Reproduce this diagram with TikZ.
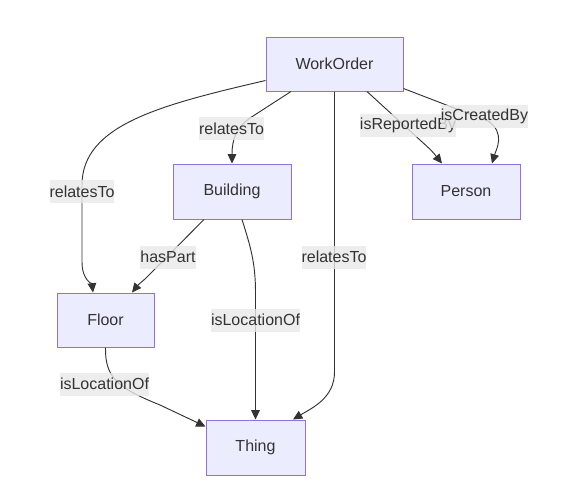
\documentclass[tikz,border=0pt]{standalone}
\usepackage{fontspec}
\setmainfont{Liberation Sans}
\usetikzlibrary{arrows.meta,calc}
\definecolor{boxfill}{HTML}{ECECFF}
\definecolor{boxline}{HTML}{9370DB}
\definecolor{ink}{HTML}{333333}
\definecolor{lblbg}{HTML}{E8E8E8}
\tikzset{
  box/.style={draw=boxline, fill=boxfill, line width=0.75pt, text=ink, inner sep=0pt,
    font=\fontsize{12}{14}\selectfont},
  edge/.style={draw=ink, line width=0.7pt, -{Triangle[length=7pt,width=6.5pt]}},
  lbl/.style={fill=lblbg, fill opacity=0.8, text opacity=1, text=ink, inner xsep=0pt,
    inner ysep=0pt, minimum height=17.25pt, font=\fontsize{12}{14}\selectfont}
}
\begin{document}
\begin{tikzpicture}[x=0.75pt,y=-0.75pt]
\useasboundingbox (0,0) rectangle (572,504);
% nodes
\node[box, minimum width=102.75pt, minimum height=40.5pt] (wo) at (334.5,64) {WorkOrder};
\node[box, minimum width=88.5pt, minimum height=41.25pt] (bld) at (232,191.5) {Building};
\node[box, minimum width=81pt, minimum height=41.25pt] (per) at (466,191.5) {Person};
\node[box, minimum width=72.75pt, minimum height=40.5pt] (flr) at (105.5,320) {Floor};
\node[box, minimum width=74.25pt, minimum height=41.25pt] (thg) at (255.5,447.5) {Thing};
% edges
\draw[edge] ([shift={(0,-11)}]wo.south west) .. controls (160,105) and (82,125) .. (82,185)
  -- (82,262) .. controls (82,280) and (92,284) .. ([shift={(-12.5,0)}]flr.north);
\draw[edge] ([shift={(-43.5,0)}]wo.south) -- (250,118) .. controls (236,128) and (232,140) .. (bld.north);
\draw[edge] (wo.south) -- (334.5,372) .. controls (334.5,398) and (312,408) .. ([shift={(37.5,0)}]thg.north);
\draw[edge] ([shift={(32.5,0)}]wo.south) -- (420,140) .. controls (432,151) .. ([shift={(-24,0)}]per.north);
\draw[edge] ([shift={(0,-3)}]wo.south east) -- (488,121) .. controls (506,133) and (496,150) .. ([shift={(26,0)}]per.north);
\draw[edge] ([shift={(-28,0)}]bld.south) -- (145,279) .. controls (138,285) .. ([shift={(26.5,0)}]flr.north);
\draw[edge] ([shift={(10,0)}]bld.south) .. controls (250,245) and (255.5,262) .. (255.5,292) -- (thg.north);
\draw[edge] (flr.south) .. controls (105,378) and (118,388) .. (160,405) -- ([shift={(0,7)}]thg.north west);
% labels
\node[lbl] (l1) at (82,191.5) {relatesTo};
\node[lbl] (l2) at (231.5,128.5) {relatesTo};
\node[lbl] (l3) at (334,257) {relatesTo};
\node[lbl] (l4) at (408,125) {isReportedBy};
\node[lbl] (l5) at (484.5,116) {isCreatedBy};
\node[lbl] (l6) at (168,257) {hasPart};
\node[lbl] (l7) at (255.5,320) {isLocationOf};
\node[lbl] (l8) at (104.5,384) {isLocationOf};
\end{tikzpicture}
\end{document}
